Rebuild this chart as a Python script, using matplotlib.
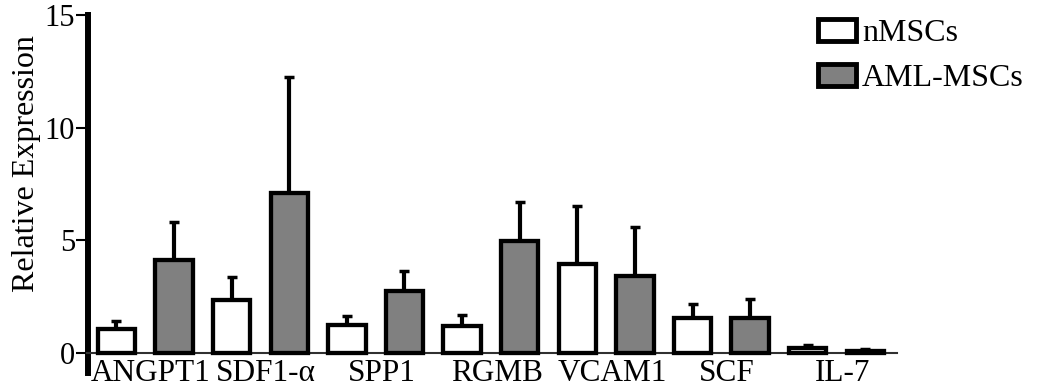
import matplotlib
matplotlib.use("Agg")
import matplotlib.pyplot as plt
import numpy as np

genes = ["ANGPT1", "SDF1-α", "SPP1", "RGMB", "VCAM1", "SCF", "IL-7"]
nmsc_mean = [1.05, 2.33, 1.26, 1.18, 3.97, 1.53, 0.23]
nmsc_err = [0.38, 1.02, 0.38, 0.50, 2.55, 0.65, 0.13]
aml_mean = [4.12, 7.08, 2.74, 4.99, 3.41, 1.55, 0.09]
aml_err = [1.68, 5.15, 0.90, 1.70, 2.20, 0.83, 0.07]
series_names = ["nMSCs", "AML-MSCs"]
yticks = [0, 5, 10, 15]

plt.rcParams['font.family'] = ['Liberation Serif', 'DejaVu Serif']

fig = plt.figure(figsize=(10.38, 3.87), dpi=100)
ax = fig.add_axes([87.5 / 1038, 1 - 373 / 387, (897 - 87.5) / 1038, 358 / 387])

n = len(genes)
idx = np.arange(n)
x_n = idx * 2
x_a = idx * 2 + 1
width = 0.65
lw = 3.1

ax.bar(x_n, nmsc_mean, width, color='white', edgecolor='black', linewidth=lw, zorder=3, label=series_names[0])
ax.bar(x_a, aml_mean, width, color='#808080', edgecolor='black', linewidth=lw, zorder=3, label=series_names[1])
zeros = np.zeros(n)
ax.errorbar(x_n, nmsc_mean, yerr=[zeros, nmsc_err], fmt='none', ecolor='black', elinewidth=3.0, capsize=3.5, capthick=2.5, zorder=2)
ax.errorbar(x_a, aml_mean, yerr=[zeros, aml_err], fmt='none', ecolor='black', elinewidth=3.0, capsize=3.5, capthick=2.5, zorder=2)

ax.set_xlim(-0.503, 13.55)
ax.set_ylim(-0.89, 15)

for s in ['top', 'right']:
    ax.spines[s].set_visible(False)
ax.spines['left'].set_linewidth(4.3)
ax.spines['bottom'].set_position(('data', 0))
ax.spines['bottom'].set_linewidth(1.5)
ax.spines['bottom'].set_color('#303030')

ax.set_yticks(yticks)
ax.set_yticklabels([str(v) for v in yticks])
ax.tick_params(axis='y', length=9, width=1.5, pad=0, labelsize=22)
ax.set_xticks(idx * 2 + 0.5 + 0.1)
ax.set_xticklabels(genes)
ax.tick_params(axis='x', length=0, pad=4, labelsize=22.5)

fig.text(27 / 1038, 1 - 164 / 387, "Relative Expression", rotation=90, ha='center', va='center', fontsize=23)

leg = ax.legend(loc='upper left', bbox_to_anchor=(818 / 1038, 1 - 19 / 387), bbox_transform=fig.transFigure,
                frameon=False, fontsize=23, handlelength=1.2, handleheight=0.68, handletextpad=0.18,
                labelspacing=0.5, borderpad=0, borderaxespad=0)
for h in leg.legend_handles:
    h.set_linewidth(3.5)

fig.savefig("out.png", dpi=100)
